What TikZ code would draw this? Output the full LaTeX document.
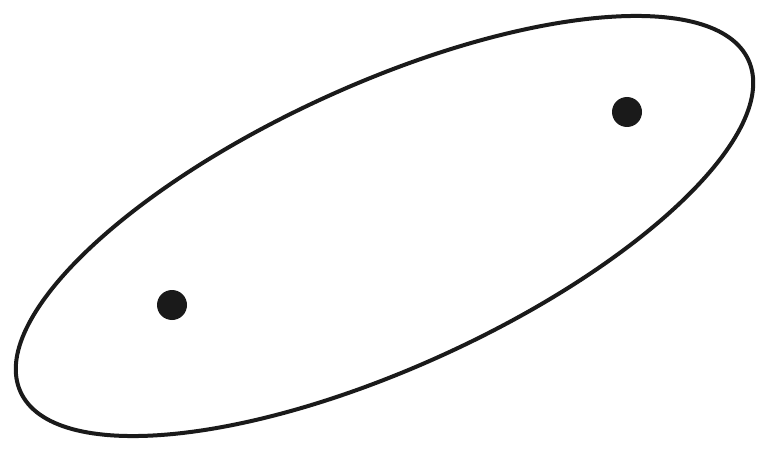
\documentclass[tikz,border=0pt]{standalone}
\usetikzlibrary{shapes.geometric}
\definecolor{ink}{HTML}{1A1A1A}
\tikzset{
  outline/.style={draw=ink, line width=4pt},
  dot/.style={circle, fill=ink, inner sep=0pt, minimum size=30pt}
}
\begin{document}
\begin{tikzpicture}[x=1pt,y=1pt]
  \fill[white] (0,0) rectangle (768,456);
  \useasboundingbox (0,0) rectangle (768,456);
  \draw[outline, rotate around={24.5:(384.5,230)}] (384.5,230) ellipse [x radius=400, y radius=141.6];
  \node[dot] (p1) at (172,151) {};
  \node[dot] (p2) at (627,344) {};
\end{tikzpicture}
\end{document}
